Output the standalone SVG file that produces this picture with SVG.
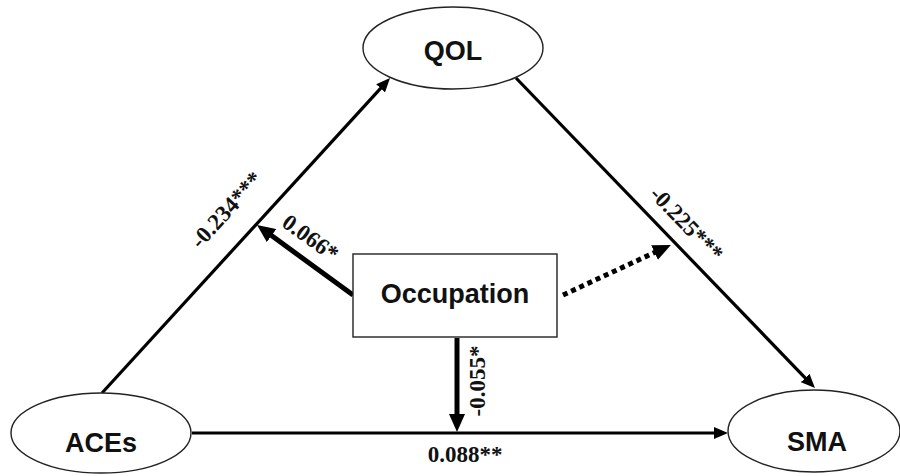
<svg xmlns="http://www.w3.org/2000/svg" width="900" height="476" viewBox="0 0 900 476">
<style>
.node{fill:#fff;stroke:#222;stroke-width:1.4}
.lbl{font-family:"Liberation Sans",Arial,sans-serif;font-weight:bold;font-size:27px;fill:#111;text-anchor:middle}
.num{font-family:"Liberation Serif","Times New Roman",serif;font-weight:bold;font-size:23px;fill:#111;text-anchor:middle}
.e{stroke:#000;stroke-width:3.2;fill:none}
.t{stroke:#000;stroke-width:5;fill:none}
.d{stroke:#000;stroke-width:5;fill:none;stroke-dasharray:5 4}
</style>
<defs>
<marker id="ah" markerWidth="14" markerHeight="12" refX="4" refY="6" orient="auto" markerUnits="userSpaceOnUse"><path d="M0,0 L14,6 L0,12 z" fill="#000"/></marker>
<marker id="ahb" markerWidth="18" markerHeight="16" refX="6" refY="8" orient="auto" markerUnits="userSpaceOnUse"><path d="M0,0 L18,8 L0,16 z" fill="#000"/></marker>
</defs>
<rect width="900" height="476" fill="#fff"/>
<g id="connectors">
<line class="e" x1="102" y1="393" x2="383.3" y2="85.4" marker-end="url(#ah)"/>
<line class="e" x1="516" y1="78" x2="808" y2="380.8" marker-end="url(#ah)"/>
<line class="e" x1="192" y1="433" x2="718" y2="433" marker-end="url(#ah)"/>
<line class="t" x1="457" y1="338" x2="457" y2="420" marker-end="url(#ahb)"/>
<line class="t" x1="353" y1="295" x2="266.7" y2="232.1" marker-end="url(#ahb)"/>
<line class="d" x1="563" y1="295" x2="660" y2="250" marker-end="url(#ahb)"/>
<text class="num" transform="translate(232,215) rotate(-47.6)">-0.234***</text>
<text class="num" transform="translate(306,244) rotate(36)">0.066*</text>
<text class="num" transform="translate(681,229) rotate(46)">-0.225***</text>
<text class="num" transform="translate(485,381) rotate(-90)">-0.055*</text>
<text class="num" x="465" y="462">0.088**</text>
</g>
<g id="QOL">
<ellipse class="node" cx="453" cy="48" rx="90" ry="41"/>
<text class="lbl" x="453" y="60">QOL</text>
</g>
<g id="ACEs">
<ellipse class="node" cx="101" cy="433" rx="90" ry="40"/>
<text class="lbl" x="101" y="452">ACEs</text>
</g>
<g id="SMA">
<ellipse class="node" cx="814" cy="431" rx="86" ry="41"/>
<text class="lbl" x="817" y="451">SMA</text>
</g>
<g id="Occupation">
<rect class="node" x="353" y="254" width="204" height="83"/>
<text class="lbl" x="455" y="303">Occupation</text>
</g>
</svg>
